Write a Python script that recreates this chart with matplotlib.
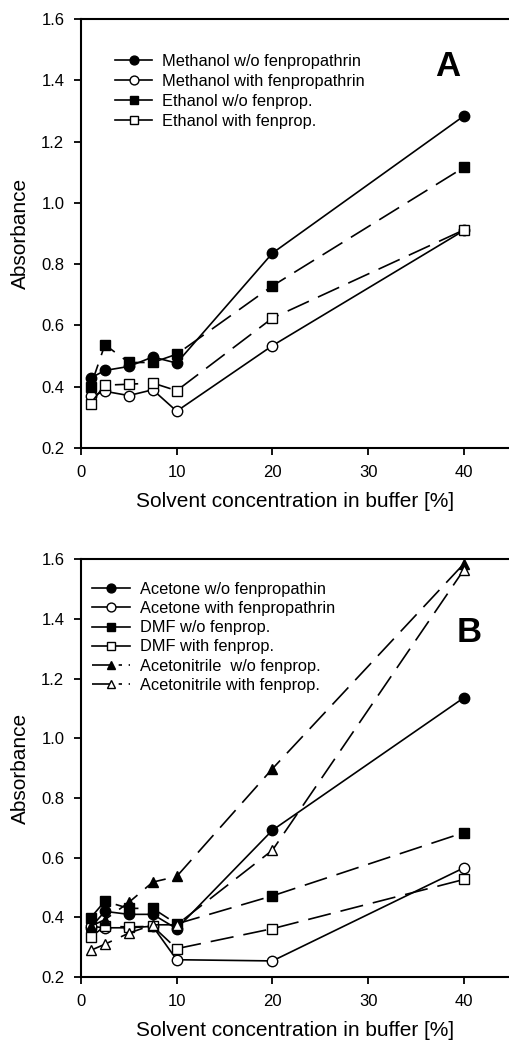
import numpy as np
import matplotlib
matplotlib.use('Agg')
import matplotlib.pyplot as plt

plt.rcParams['font.family'] = ['Liberation Sans', 'DejaVu Sans']

conc = [1, 2.5, 5, 7.5, 10, 20, 40]

# panel A
meoh_wo = [0.428, 0.453, 0.466, 0.497, 0.477, 0.836, 1.284]
meoh_with = [0.368, 0.385, 0.371, 0.390, 0.320, 0.534, 0.910]
etoh_wo = [0.400, 0.537, 0.479, 0.479, 0.506, 0.729, 1.116]
etoh_with = [0.345, 0.405, 0.408, 0.412, 0.387, 0.624, 0.912]

# panel B
acet_wo = [0.365, 0.420, 0.410, 0.410, 0.362, 0.692, 1.136]
acet_with = [0.370, 0.365, 0.365, 0.370, 0.258, 0.254, 0.566]
dmf_wo = [0.398, 0.454, 0.430, 0.430, 0.378, 0.472, 0.684]
dmf_with = [0.334, 0.370, 0.368, 0.370, 0.295, 0.362, 0.527]
acn_wo = [0.370, 0.392, 0.450, 0.518, 0.537, 0.898, 1.585]
acn_with = [0.289, 0.310, 0.347, 0.375, 0.375, 0.625, 1.565]

labels_a = ['Methanol w/o fenpropathrin', 'Methanol with fenpropathrin',
            'Ethanol w/o fenprop.', 'Ethanol with fenprop.']
labels_b = ['Acetone w/o fenpropathin', 'Acetone with fenpropathrin',
            'DMF w/o fenprop.', 'DMF with fenprop.',
            'Acetonitrile  w/o fenprop.', 'Acetonitrile with fenprop.']

dash = (0, (14, 6))
ms = 7.5

fig = plt.figure(figsize=(5.09, 10.59), dpi=100)
axA = fig.add_axes([0.159, 0.577, 0.841, 0.405])
axB = fig.add_axes([0.159, 0.0774, 0.841, 0.3946])


def style(ax):
    ax.set_xlim(0, 44.7)
    ax.set_ylim(0.2, 1.6)
    ax.set_xticks([0, 10, 20, 30, 40])
    ax.set_yticks(np.arange(0.2, 1.61, 0.2))
    ax.set_yticklabels(['%.1f' % v for v in np.arange(0.2, 1.61, 0.2)])
    ax.spines['right'].set_visible(False)
    for s in ['left', 'bottom', 'top']:
        ax.spines[s].set_linewidth(1.5)
    ax.tick_params(direction='out', length=5, width=1.3, labelsize=12, pad=7)
    ax.set_ylabel('Absorbance', fontsize=15, labelpad=8)
    ax.set_xlabel('Solvent concentration in buffer [%]', fontsize=15, labelpad=9)


kw = dict(color='black', lw=1.2, ms=ms, markeredgewidth=1.0, markeredgecolor='black', clip_on=False)
legkw = dict(loc='upper left', frameon=False, fontsize=11.8, handlelength=2.3,
             handletextpad=0.6, borderaxespad=0, borderpad=0, markerscale=0.85)

axA.plot(conc, meoh_wo, marker='o', mfc='black', ls='-', label=labels_a[0], **kw)
axA.plot(conc, meoh_with, marker='o', mfc='white', ls='-', label=labels_a[1], **kw)
axA.plot(conc, etoh_wo, marker='s', mfc='black', ls=dash, label=labels_a[2], **kw)
axA.plot(conc, etoh_with, marker='s', mfc='white', ls=dash, label=labels_a[3], **kw)
style(axA)
legA = axA.legend(bbox_to_anchor=(0.079, 0.918), labelspacing=0.3, **legkw)
for h in legA.get_lines():
    h.set_linestyle('-')
axA.text(0.857, 0.89, 'A', transform=axA.transAxes, fontsize=25, fontweight='bold',
         ha='center', va='center')

axB.plot(conc, acet_wo, marker='o', mfc='black', ls='-', label=labels_b[0], **kw)
axB.plot(conc, acet_with, marker='o', mfc='white', ls='-', label=labels_b[1], **kw)
axB.plot(conc, dmf_wo, marker='s', mfc='black', ls=dash, label=labels_b[2], **kw)
axB.plot(conc, dmf_with, marker='s', mfc='white', ls=dash, label=labels_b[3], **kw)
axB.plot(conc, acn_wo, marker='^', mfc='black', ls=dash, label=labels_b[4], **kw)
axB.plot(conc, acn_with, marker='^', mfc='white', ls=dash, label=labels_b[5], **kw)
style(axB)
legB = axB.legend(bbox_to_anchor=(0.026, 0.945), labelspacing=0.25, **legkw)
for h in legB.get_lines()[:4]:
    h.set_linestyle('-')
for h in legB.get_lines()[4:]:
    h.set_linestyle((0, (12, 4, 2, 4)))
axB.text(0.907, 0.825, 'B', transform=axB.transAxes, fontsize=25, fontweight='bold',
         ha='center', va='center')

fig.savefig('out.png', dpi=100)
